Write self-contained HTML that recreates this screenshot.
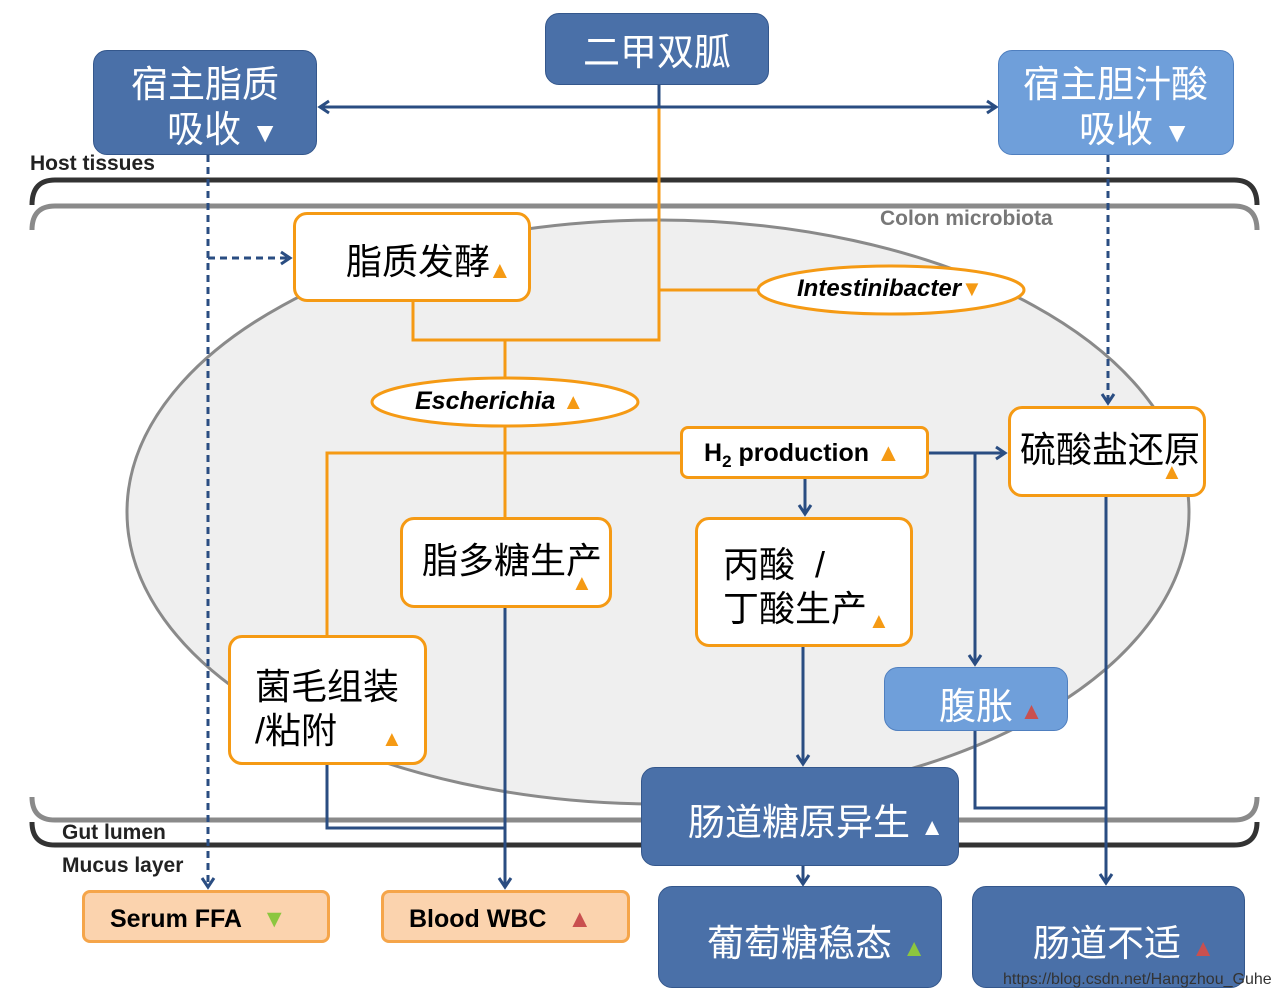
<!DOCTYPE html>
<html><head><meta charset="utf-8"><style>
body{margin:0;width:1280px;height:1000px;background:#fff;position:relative;overflow:hidden;font-family:"Liberation Sans","Noto Sans CJK SC",sans-serif}
.b{position:absolute;box-sizing:border-box;border-radius:14px}
.o{border:3px solid #f59a14;background:#fff;color:#000;font-size:36px}
.d{background:#4a70a8;border:1px solid #34578c;color:#fff;font-size:37px}
.l{background:#6f9fda;border:1px solid #4f7fbf;color:#fff;font-size:37px}
.p{background:#fbd3ae;border:3px solid #f5a54a;color:#000;font-size:25px;font-weight:bold;border-radius:8px}
.t{position:absolute;white-space:nowrap}
.up{color:#f59a14}.rd{color:#c9504f}.gr{color:#8cc63f}
.lab{position:absolute;font-size:21px;font-weight:bold;color:#222}
</style></head><body>
<svg width="1280" height="1000" style="position:absolute;left:0;top:0">
<defs><marker id="a" markerWidth="16" markerHeight="16" refX="12" refY="8" orient="auto" markerUnits="userSpaceOnUse"><path d="M3,2 L12,8 L3,14" fill="none" stroke="#2a4d82" stroke-width="3"/></marker>
<marker id="s" markerWidth="16" markerHeight="16" refX="4" refY="8" orient="auto" markerUnits="userSpaceOnUse"><path d="M13,2 L4,8 L13,14" fill="none" stroke="#2a4d82" stroke-width="3"/></marker></defs>
<ellipse cx="658" cy="512" rx="531" ry="292" fill="#efefef" stroke="#8a8a8a" stroke-width="3"/>
<path d="M32,205 Q32,180 55,180 L1234,180 Q1257,180 1257,205" fill="none" stroke="#333" stroke-width="5"/>
<path d="M32,230 Q32,206 55,206 L1234,206 Q1257,206 1257,230" fill="none" stroke="#8a8a8a" stroke-width="5"/>
<path d="M32,797 Q32,820 55,820 L1234,820 Q1257,820 1257,797" fill="none" stroke="#8a8a8a" stroke-width="5"/>
<path d="M32,822 Q32,845 55,845 L1234,845 Q1257,845 1257,822" fill="none" stroke="#333" stroke-width="5"/>
<g fill="none" stroke="#f59a14" stroke-width="3">
<path d="M659,107 L659,340 L413,340 L413,302"/>
<path d="M659,290 L757,290"/>
<path d="M505,340 L505,378"/>
<path d="M505,426 L505,517"/>
<path d="M680,453 L327,453 L327,635"/>
</g>
<g fill="none" stroke="#2a4d82" stroke-width="3">
<path d="M659,85 L659,107"/>
<path d="M320,107 L996,107" marker-start="url(#s)" marker-end="url(#a)"/>
<path d="M208,155 L208,887" stroke-dasharray="7,5" marker-end="url(#a)"/>
<path d="M208,258 L290,258" stroke-dasharray="7,5" marker-end="url(#a)"/>
<path d="M1108,155 L1108,403" stroke-dasharray="7,5" marker-end="url(#a)"/>
<path d="M929,453 L1005,453" marker-end="url(#a)"/>
<path d="M805,479 L805,514" marker-end="url(#a)"/>
<path d="M975,453 L975,664" marker-end="url(#a)"/>
<path d="M505,608 L505,887" marker-end="url(#a)"/>
<path d="M327,765 L327,828 L505,828"/>
<path d="M803,647 L803,764" marker-end="url(#a)"/>
<path d="M803,866 L803,884" marker-end="url(#a)"/>
<path d="M1106,497 L1106,883" marker-end="url(#a)"/>
<path d="M975,731 L975,808 L1106,808"/>
</g>
<ellipse cx="891" cy="290" rx="133" ry="24" fill="#fff" stroke="#f59a14" stroke-width="3"/>
<ellipse cx="505" cy="402" rx="133" ry="24" fill="#fff" stroke="#f59a14" stroke-width="3"/>
</svg>
<div class="lab" style="left:30px;top:152px">Host tissues</div>
<div class="lab" style="left:880px;top:207px;color:#777">Colon microbiota</div>
<div class="lab" style="left:62px;top:821px">Gut lumen</div>
<div class="lab" style="left:62px;top:854px">Mucus layer</div>

<div class="b d" style="left:545px;top:13px;width:224px;height:72px"><span class="t" style="left:37px;top:8px">二甲双胍</span></div>
<div class="b d" style="left:93px;top:50px;width:224px;height:105px"><span class="t" style="left:37px;top:3px">宿主脂质</span><span class="t" style="left:73px;top:48px">吸收 <span style="font-size:28px">▼</span></span></div>
<div class="b l" style="left:998px;top:50px;width:236px;height:105px"><span class="t" style="left:24px;top:3px">宿主胆汁酸</span><span class="t" style="left:80px;top:48px">吸收 <span style="font-size:28px">▼</span></span></div>

<div class="b o" style="left:293px;top:212px;width:238px;height:90px"><span class="t" style="left:50px;top:18px">脂质发酵</span><span class="t up" style="left:192px;top:42px;font-size:24px">▲</span></div>
<div class="t" style="left:797px;top:275px;font-size:24px;font-weight:bold;font-style:italic">Intestinibacter<span class="up" style="font-style:normal;font-size:22px">▼</span></div>
<div class="t" style="left:415px;top:387px;font-size:25px;font-weight:bold;font-style:italic">Escherichia <span class="up" style="font-style:normal;font-size:22px">▲</span></div>
<div class="b o" style="left:680px;top:426px;width:249px;height:53px;border-radius:8px"><span class="t" style="left:21px;top:10px;font-size:25px;font-weight:bold">H<sub style="font-size:17px">2</sub> production <span class="up">▲</span></span></div>
<div class="b o" style="left:1008px;top:406px;width:198px;height:91px"><span class="t" style="left:9px;top:12px">硫酸盐还原</span><span class="t up" style="left:150px;top:50px;font-size:22px">▲</span></div>
<div class="b o" style="left:400px;top:517px;width:212px;height:91px"><span class="t" style="left:19px;top:12px">脂多糖生产</span><span class="t up" style="left:168px;top:50px;font-size:22px">▲</span></div>
<div class="b o" style="left:695px;top:517px;width:218px;height:130px"><span class="t" style="left:25px;top:16px">丙酸 &nbsp;/</span><span class="t" style="left:25px;top:60px">丁酸生产</span><span class="t up" style="left:170px;top:88px;font-size:22px">▲</span></div>
<div class="b o" style="left:228px;top:635px;width:199px;height:130px"><span class="t" style="left:24px;top:20px">菌毛组装</span><span class="t" style="left:24px;top:64px">/粘附</span><span class="t up" style="left:150px;top:88px;font-size:22px">▲</span></div>
<div class="b l" style="left:884px;top:667px;width:184px;height:64px"><span class="t" style="left:54px;top:8px">腹胀<span class="rd" style="font-size:24px"> ▲</span></span></div>
<div class="b d" style="left:641px;top:767px;width:318px;height:99px"><span class="t" style="left:46px;top:24px">肠道糖原异生 <span style="font-size:24px">▲</span></span></div>
<div class="b d" style="left:658px;top:886px;width:284px;height:102px"><span class="t" style="left:48px;top:26px">葡萄糖稳态 <span class="gr" style="font-size:24px">▲</span></span></div>
<div class="b d" style="left:972px;top:886px;width:273px;height:102px"><span class="t" style="left:60px;top:26px">肠道不适 <span class="rd" style="font-size:24px">▲</span></span></div>
<div class="b p" style="left:82px;top:890px;width:248px;height:53px"><span class="t" style="left:25px;top:12px">Serum FFA &nbsp;&nbsp;<span class="gr">▼</span></span></div>
<div class="b p" style="left:381px;top:890px;width:249px;height:53px"><span class="t" style="left:25px;top:12px">Blood WBC &nbsp;&nbsp;<span class="rd">▲</span></span></div>
<div class="t" style="left:1003px;top:971px;font-size:16px;color:#333">https://blog.csdn.net/Hangzhou_Guhe</div>
</body></html>
